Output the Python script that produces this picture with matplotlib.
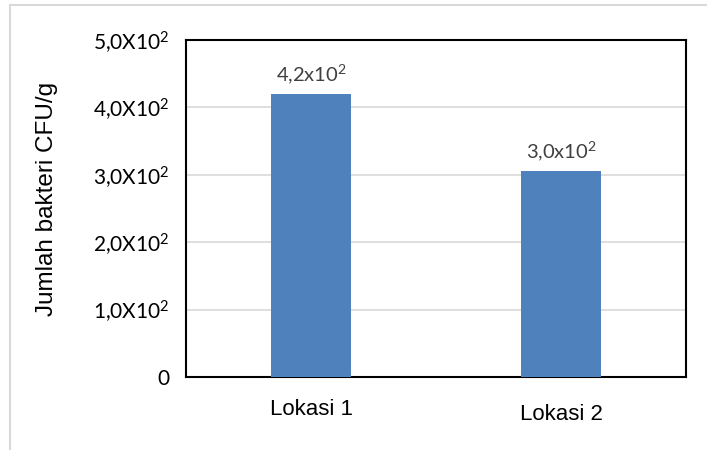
import matplotlib.pyplot as plt
from matplotlib.patches import Rectangle
from matplotlib.ticker import FixedLocator, FixedFormatter
import matplotlib.transforms as mtransforms

plt.rcParams["mathtext.fontset"] = "custom"
plt.rcParams["mathtext.rm"] = "Lato"
plt.rcParams["mathtext.it"] = "Lato:italic"
plt.rcParams["mathtext.bf"] = "Lato:bold"

categories = ["Lokasi 1", "Lokasi 2"]
values = [420, 306]
bar_labels = ["4,2x10$^{2}$", "3,0x10$^{2}$"]
y_ticks = [0, 100, 200, 300, 400, 500]
y_tick_labels = ["0", "1,0X10$^{2}$", "2,0X10$^{2}$", "3,0X10$^{2}$",
                 "4,0X10$^{2}$", "5,0X10$^{2}$"]

fig = plt.figure(figsize=(7.07, 4.5), dpi=100)
ax = fig.add_axes([186/707, 1 - 377/450, 500/707, 337/450])

# light grey outer frame (only top and left visible)
fig.patches.append(Rectangle((10/707, -0.2), 1.2, 1.2 - 5/450,
                             transform=fig.transFigure, fill=False,
                             edgecolor="#d9d9d9", linewidth=1.5))

x = list(range(len(categories)))
rects = ax.bar(x, values, width=0.32, color="#4f81bd", zorder=3)

for rect, lab in zip(rects, bar_labels):
    ax.text(rect.get_x() + rect.get_width() / 2, rect.get_height() + 12, lab,
            ha="center", va="bottom", fontsize=14.5, color="#404040",
            family="Lato")

ax.set_xlim(-0.5, 1.5)
ax.set_ylim(0, 500)
ax.yaxis.set_major_locator(FixedLocator(y_ticks))
ax.yaxis.set_major_formatter(FixedFormatter(y_tick_labels))
ax.set_xticks(x)
ax.set_xticklabels(categories, fontsize=16, family="Liberation Sans")
for t in ax.get_yticklabels():
    t.set_family("Lato")
    t.set_fontsize(15)
ax.tick_params(axis="both", length=0)
ax.tick_params(axis="y", pad=12)
ax.tick_params(axis="x", pad=16)

# second category label sits a bit lower
lab2 = ax.get_xticklabels()[1]
lab2.set_transform(lab2.get_transform() + mtransforms.ScaledTranslation(0, -5/100, fig.dpi_scale_trans))

ax.grid(axis="y", color="#d9d9d9", linewidth=1.2, zorder=0)
for s in ax.spines.values():
    s.set_color("black")
    s.set_linewidth(1.5)

fig.text(47/707, 1 - 199/450, "Jumlah bakteri CFU/g", rotation=90,
         ha="center", va="center", fontsize=17.5, family="Liberation Sans")

fig.savefig("out.png", dpi=100)
